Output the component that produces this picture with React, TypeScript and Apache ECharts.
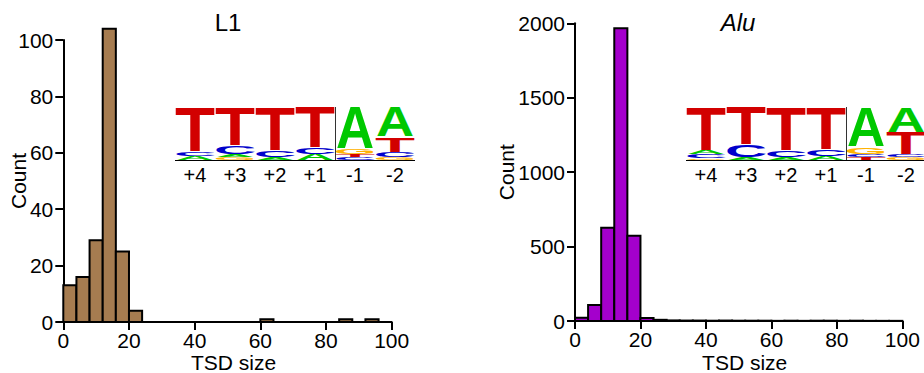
import React, { useEffect, useRef } from "react";
import * as echarts from "echarts";

// ---------- Histogram data (bin width 4, bins 0–100) ----------
const BIN_WIDTH = 4;
const BIN_STARTS = [0, 4, 8, 12, 16, 20, 24, 28, 32, 36, 40, 44, 48, 52, 56, 60, 64, 68, 72, 76, 80, 84, 88, 92, 96];
const L1_COUNTS = [13, 16, 29, 104, 25, 4, 0, 0, 0, 0, 0, 0, 0, 0, 0, 1, 0, 0, 0, 0, 0, 1, 0, 1, 0];
const ALU_COUNTS = [22, 107, 627, 1966, 573, 20, 8, 4, 3, 3, 2, 3, 2, 2, 2, 1, 2, 1, 2, 2, 1, 2, 1, 1, 1];

const X_TICKS_MAX = 100;
const L1_Y_MAX = 100;
const L1_Y_STEP = 20;
const ALU_Y_MAX = 2000;
const ALU_Y_STEP = 500;

const TITLES = ["L1", "Alu"];
const X_NAME = "TSD size";
const Y_NAME = "Count";

// ---------- Sequence-logo data (bits, stacked bottom -> top) ----------
const LOGO_POSITIONS = ["+4", "+3", "+2", "+1", "-1", "-2"];
const L1_LOGO: [string, number][][] = [
  [["A", 0.15], ["C", 0.13], ["T", 1.72]],
  [["G", 0.11], ["A", 0.11], ["C", 0.3], ["T", 1.47]],
  [["A", 0.11], ["C", 0.23], ["T", 1.66]],
  [["A", 0.23], ["C", 0.23], ["T", 1.55]],
  [["C", 0.11], ["T", 0.11], ["G", 0.19], ["A", 1.58]],
  [["G", 0.11], ["C", 0.19], ["T", 0.57], ["A", 1.13]],
];
const ALU_LOGO: [string, number][][] = [
  [["G", 0.06], ["C", 0.15], ["A", 0.15], ["T", 1.64]],
  [["A", 0.11], ["C", 0.45], ["T", 1.43]],
  [["A", 0.11], ["C", 0.23], ["T", 1.66]],
  [["A", 0.15], ["C", 0.23], ["T", 1.62]],
  [["T", 0.11], ["C", 0.11], ["G", 0.26], ["A", 1.51]],
  [["G", 0.11], ["C", 0.11], ["T", 0.83], ["A", 0.94]],
];

const FONT = '"Liberation Sans", Arial, Helvetica, sans-serif';
const LETTER_COLORS: Record<string, string> = {
  T: "#D20000",
  A: "#00C800",
  C: "#0000CC",
  G: "#FFB300",
};
const LETTER_INK: Record<string, number> = { T: 0.58, A: 0.72, C: 0.65, G: 0.69 };

function buildLogo(
  stacks: [string, number][][],
  x0: number,
  top: number,
  base: number,
  colW: number,
  sepIndex: number
) {
  const els: any[] = [];
  const pxPerBit = (base - top) / 2;
  const F = 100;
  stacks.forEach((stack, i) => {
    const cx = x0 + colW * i + colW / 2;
    let y = base;
    stack.forEach(([letter, bits]) => {
      const h = bits * pxPerBit;
      const w = colW - 2;
      els.push({
        type: "text",
        silent: true,
        x: cx,
        y: y - h / 2,
        scaleX: w / (LETTER_INK[letter] * F),
        scaleY: h / (0.716 * F),
        style: {
          text: letter,
          x: 0,
          y: 0,
          fill: LETTER_COLORS[letter],
          font: `bold ${F}px ${FONT}`,
          fontSize: F,
          fontWeight: "bold",
          fontFamily: FONT,
          align: "center",
          verticalAlign: "middle",
          textAlign: "center",
          textVerticalAlign: "middle",
        },
      });
      y -= h;
    });
    els.push({
      type: "text",
      silent: true,
      x: cx,
      y: base + 15,
      style: {
        text: LOGO_POSITIONS[i],
        x: 0,
        y: 0,
        fill: "#000",
        font: `20px ${FONT}`,
        fontSize: 20,
        fontFamily: FONT,
        align: "center",
        verticalAlign: "middle",
        textAlign: "center",
        textVerticalAlign: "middle",
      },
    });
  });
  els.push({
    type: "line",
    silent: true,
    shape: { x1: x0, y1: base + 0.5, x2: x0 + colW * stacks.length, y2: base + 0.5 },
    style: { stroke: "#000", lineWidth: 1 },
  });
  const sx = Math.round(x0 + colW * sepIndex) + 0.5;
  els.push({
    type: "line",
    silent: true,
    shape: { x1: sx, y1: top, x2: sx, y2: base },
    style: { stroke: "#333", lineWidth: 1 },
  });
  return els;
}

function histData(counts: number[]) {
  return BIN_STARTS.map((s, i) => [s, s + BIN_WIDTH, counts[i]]);
}

function makeRender(color: string) {
  return (params: any, api: any) => {
    const x0 = api.value(0);
    const x1 = api.value(1);
    const c = api.value(2);
    if (!c) return null;
    const p0 = api.coord([x0, c]);
    const p1 = api.coord([x1, 0]);
    return {
      type: "rect",
      shape: { x: p0[0], y: p0[1], width: p1[0] - p0[0], height: p1[1] - p0[1] },
      style: { fill: color, stroke: "#000", lineWidth: 2 },
    };
  };
}

function axisCommon() {
  return {
    axisLine: { show: true, onZero: false, lineStyle: { color: "#000", width: 2 } },
    axisTick: { show: true, inside: false, length: 8, lineStyle: { color: "#000", width: 2 } },
    splitLine: { show: false },
    axisLabel: {
      color: "#000",
      fontSize: 21,
      fontFamily: FONT,
      formatter: (v: number) => String(v),
    },
    nameMoveOverlap: false,
    nameTextStyle: { color: "#000", fontSize: 21, fontFamily: FONT },
  };
}

export default function App() {
  const ref = useRef<HTMLDivElement>(null);
  useEffect(() => {
    if (!ref.current) return;
    const chart = echarts.init(ref.current, undefined, { renderer: "svg" });
    const option: any = {
      animation: false,
      backgroundColor: "#fff",
      title: [
        {
          text: TITLES[0],
          left: 228,
          top: 10,
          padding: 0,
          textAlign: "center",
          textStyle: { color: "#000", fontSize: 24, fontWeight: "normal", fontFamily: FONT },
        },
        {
          text: TITLES[1],
          left: 738,
          top: 10,
          padding: 0,
          textAlign: "center",
          textStyle: { color: "#000", fontSize: 24, fontWeight: "normal", fontStyle: "italic", fontFamily: FONT },
        },
      ],
      grid: [
        { left: 63.3, top: 40, width: 328.4, height: 282, containLabel: false, outerBoundsMode: "none" },
        { left: 575, top: 23.3, width: 327.3, height: 297.7, containLabel: false, outerBoundsMode: "none" },
      ],
      xAxis: [0, 1].map((g) => {
        const c = axisCommon();
        return {
          type: "value",
          gridIndex: g,
          min: 0,
          max: X_TICKS_MAX,
          interval: 20,
          ...c,
          axisLabel: { ...c.axisLabel, margin: 8 },
          name: X_NAME,
          nameLocation: "middle",
          nameGap: g === 0 ? 30 : 31,
          nameTextStyle: { ...c.nameTextStyle, padding: [0, 0, 0, 12] },
        };
      }),
      yAxis: [0, 1].map((g) => {
        const c = axisCommon();
        return {
          type: "value",
          gridIndex: g,
          min: 0,
          max: g === 0 ? L1_Y_MAX : ALU_Y_MAX,
          interval: g === 0 ? L1_Y_STEP : ALU_Y_STEP,
          ...c,
          axisLabel: { ...c.axisLabel, margin: 10 },
          name: Y_NAME,
          nameLocation: "middle",
          nameRotate: 90,
          nameGap: g === 0 ? 34.5 : 58.5,
        };
      }),
      series: [
        {
          type: "custom",
          xAxisIndex: 0,
          yAxisIndex: 0,
          clip: false,
          renderItem: makeRender("#A67C50"),
          encode: { x: [0, 1], y: 2 },
          data: histData(L1_COUNTS),
          z: 3,
        },
        {
          type: "custom",
          xAxisIndex: 1,
          yAxisIndex: 1,
          clip: false,
          renderItem: makeRender("#A400CC"),
          encode: { x: [0, 1], y: 2 },
          data: histData(ALU_COUNTS),
          z: 3,
        },
      ],
      graphic: [
        ...buildLogo(L1_LOGO, 175, 107, 160, 40, 4),
        ...buildLogo(ALU_LOGO, 686, 107, 160, 40, 4),
      ],
    };
    chart.setOption(option);
    return () => chart.dispose();
  }, []);
  return (
    <div
      ref={ref}
      style={{ position: "absolute", left: 0, top: 0, width: 924, height: 373 }}
    />
  );
}
